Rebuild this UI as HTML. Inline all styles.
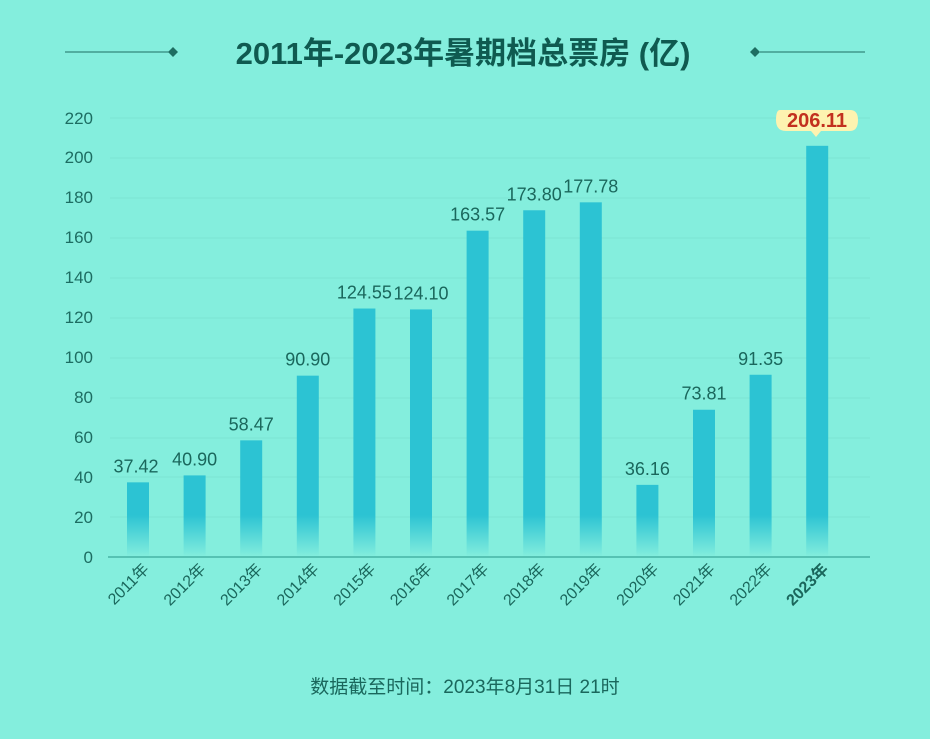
<!DOCTYPE html>
<html><head><meta charset="utf-8"><style>
body{margin:0;width:930px;height:739px;overflow:hidden;background:#84eedd;font-family:"Liberation Sans","Noto Sans CJK SC",sans-serif;}
</style></head><body>
<svg width="930" height="739" xmlns="http://www.w3.org/2000/svg" style="position:absolute;left:0;top:0">
<line x1="65" y1="52" x2="172" y2="52" stroke="#1e6e62" stroke-width="1"/>
<path d="M173 47 L178 52 L173 57 L168 52Z" fill="#1e6e62"/>
<line x1="760" y1="52" x2="865" y2="52" stroke="#1e6e62" stroke-width="1"/>
<path d="M755 47 L760 52 L755 57 L750 52Z" fill="#1e6e62"/>
<text x="463" y="64" text-anchor="middle" font-size="31" font-weight="bold" fill="#0f5a50">2011年-2023年暑期档总票房 (亿)</text>
<g font-size="17" fill="#1d6d62" text-anchor="end">
<text x="93" y="563">0</text><text x="93" y="523">20</text><text x="93" y="483">40</text><text x="93" y="443">60</text><text x="93" y="403">80</text><text x="93" y="363">100</text><text x="93" y="323">120</text><text x="93" y="283">140</text><text x="93" y="243">160</text><text x="93" y="203">180</text><text x="93" y="163">200</text><text x="93" y="124">220</text>
</g>
<g stroke="#7be4d3" stroke-width="1">
<line x1="110" y1="118" x2="870" y2="118"/><line x1="110" y1="158" x2="870" y2="158"/><line x1="110" y1="198" x2="870" y2="198"/><line x1="110" y1="238" x2="870" y2="238"/><line x1="110" y1="278" x2="870" y2="278"/><line x1="110" y1="318" x2="870" y2="318"/><line x1="110" y1="358" x2="870" y2="358"/><line x1="110" y1="398" x2="870" y2="398"/><line x1="110" y1="438" x2="870" y2="438"/><line x1="110" y1="477" x2="870" y2="477"/><line x1="110" y1="517" x2="870" y2="517"/>
</g>
<line x1="108" y1="557" x2="870" y2="557" stroke="#3aa89a" stroke-width="1.2"/>
<g id="bars"></g>
<g id="labels" font-size="18" fill="#1a675c" text-anchor="middle"></g>
<g id="xl" font-size="16" fill="#1a675c" text-anchor="end"></g>
<path d="M780 110 Q776 110 776 120 Q776 131 786 131 L811 131 L816 137 L821 131 L850 131 Q858 131 858 120 Q858 110 850 110 Z" fill="#fdf3b0"/>
<text x="817" y="127" text-anchor="middle" font-size="20" fill="#c2301e" font-weight="bold">206.11</text>
<text x="465" y="693" text-anchor="middle" font-size="19" fill="#1a675c">数据截至时间：2023年8月31日  21时</text>
</svg>
<script>
var v=[37.42,40.90,58.47,90.90,124.55,124.10,163.57,173.80,177.78,36.16,73.81,91.35,206.11];
var ns="http://www.w3.org/2000/svg",b=document.getElementById('bars'),l=document.getElementById('labels'),x=document.getElementById('xl');
v.forEach(function(d,i){var cx=138+i*56.6,top=557-d*1.995,h=557-top;
var r=document.createElementNS(ns,'rect');r.setAttribute('x',cx-11);r.setAttribute('y',top);r.setAttribute('width',22);r.setAttribute('height',h);
var grad=document.createElementNS(ns,'linearGradient');grad.setAttribute('id','g'+i);grad.setAttribute('x1',0);grad.setAttribute('x2',0);grad.setAttribute('y1',top);grad.setAttribute('y2',557);grad.setAttribute('gradientUnits','userSpaceOnUse');
var s1=(515-top)/h;if(s1<0)s1=0;
grad.innerHTML='<stop offset="0" stop-color="#2cc3d3"/><stop offset="'+s1+'" stop-color="#2cc3d3"/><stop offset="1" stop-color="#2cc3d3" stop-opacity="0"/>';
b.appendChild(grad);r.setAttribute('fill','url(#g'+i+')');b.appendChild(r);
if(i<12){var t=document.createElementNS(ns,'text');t.setAttribute('x',cx+(i==0?-2:0));t.setAttribute('y',top-10);t.textContent=d.toFixed(2);l.appendChild(t);}
var y=document.createElementNS(ns,'text');y.setAttribute('transform','translate('+(cx+12)+',570) rotate(-45)');y.textContent=(2011+i)+'年';if(i==12)y.setAttribute('font-weight','bold');x.appendChild(y);
});
</script>
</body></html>
